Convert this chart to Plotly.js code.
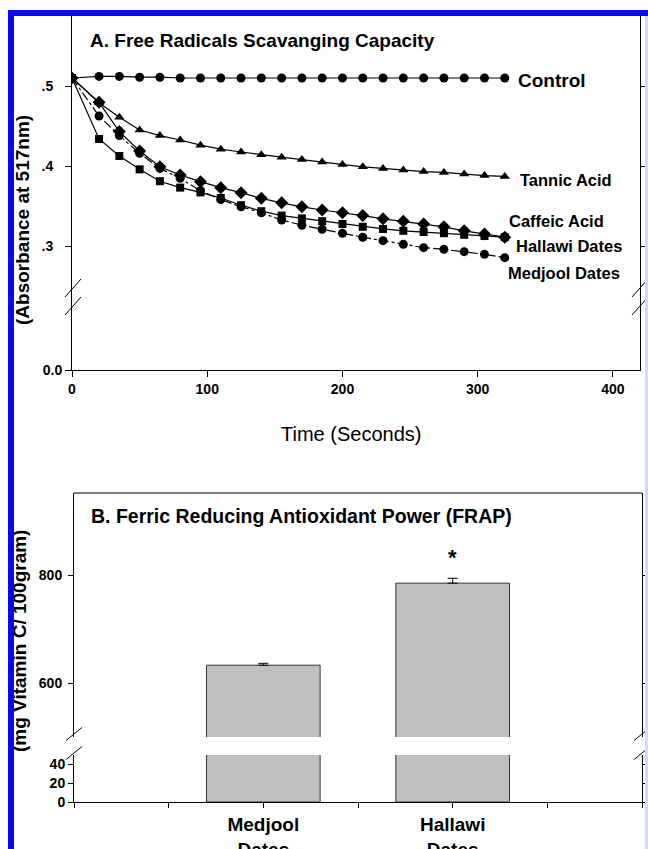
<!DOCTYPE html>
<html><head><meta charset="utf-8">
<script src="https://cdn.plot.ly/plotly-3.0.1.min.js"></script>
<style>
html,body{margin:0;padding:0;background:#fff;}
#wrap{position:relative;width:648px;height:849px;overflow:hidden;}
#chart{width:648px;height:849px;}
.b{position:absolute;background:#0808f2;}
</style>
</head><body>
<div id="wrap"><div id="chart"></div>
<div class="b" style="left:8px;top:10px;width:6px;height:839px"></div>
<div class="b" style="left:8px;top:10px;width:640px;height:6px"></div>
<div style="position:absolute;left:645px;top:16px;width:3px;height:833px;background:#d8d8f6"></div>
</div>
<script>
// ---- Panel A data: absorbance at 517 nm vs time ----
const timeSec = [0,20,35,50,65,80,95,110,125,140,155,170,185,200,215,230,245,260,275,290,305,320];
const control = [0.510,0.512,0.512,0.511,0.511,0.510,0.510,0.510,0.510,0.510,0.510,0.510,0.510,0.510,0.510,0.510,0.510,0.510,0.510,0.510,0.510,0.510];
const tannicAcid = [0.510,0.479,0.461,0.445,0.438,0.4325,0.426,0.421,0.4175,0.414,0.411,0.408,0.405,0.402,0.399,0.397,0.395,0.393,0.392,0.390,0.388,0.387];
const caffeicAcid = [0.510,0.4796,0.443,0.4188,0.399,0.3888,0.3804,0.3729,0.3667,0.3596,0.354,0.349,0.345,0.3417,0.338,0.334,0.3308,0.3275,0.324,0.319,0.315,0.311];
const hallawiDates = [0.510,0.4338,0.4125,0.3958,0.381,0.373,0.367,0.360,0.351,0.3435,0.338,0.3345,0.331,0.3275,0.324,0.3213,0.319,0.3175,0.316,0.314,0.3125,0.311];
const medjoolDates = [0.510,0.4625,0.438,0.4158,0.397,0.3846,0.369,0.358,0.349,0.3415,0.3325,0.326,0.321,0.3159,0.311,0.3067,0.3021,0.2979,0.2958,0.2929,0.2896,0.2854];
const seriesNames = ['Control','Tannic Acid','Caffeic Acid','Hallawi Dates','Medjool Dates'];
const timeTicks = [0,100,200,300,400];
const absTickVals = [0.3,0.4,0.5];
const absTickText = ['.3','.4','.5'];
const absZeroTick = [0];
const absZeroText = ['0.0'];

// ---- Panel B data: FRAP ----
const frapCategories = ['Medjool<br>Dates','Hallawi<br>Dates'];
const frapValues = [633, 785];
const frapErrors = [3.5, 9];
const frapErrMinus = [0, 0];
const frapUpperTicks = [600, 800];
const frapLowerTicks = [0, 20, 40];

const W = 648, H = 849;
const fx = p => p / W;
const fy = p => 1 - p / H;
const F = 'Liberation Sans, Arial, sans-serif';
const tickFont = {family: F, size: 14, color: '#000', weight: 'bold'};

function series(name, y, symbol, size, dash) {
  return {x: timeSec, y: y, name: name, mode: 'lines+markers', xaxis: 'x', yaxis: 'y',
    line: {color: '#000', width: 1.2, dash: dash},
    marker: {symbol: symbol, size: size, color: '#000'},
    showlegend: false, hoverinfo: 'skip'};
}

const traces = [
  series(seriesNames[4], medjoolDates, 'circle', 9, 'dashdot'),
  series(seriesNames[3], hallawiDates, 'square', 8, 'solid'),
  series(seriesNames[2], caffeicAcid, 'diamond', 10, 'solid'),
  series(seriesNames[1], tannicAcid, 'triangle-up', 9, 'solid'),
  series(seriesNames[0], control, 'circle', 9, 'solid'),
  {type: 'bar', x: frapCategories, y: frapValues, xaxis: 'x2', yaxis: 'y2', width: 0.6,
   marker: {color: '#c0c0c0', line: {color: '#333', width: 1}},
   error_y: {type: 'data', symmetric: false, array: frapErrors, arrayminus: frapErrMinus, color: '#000', thickness: 1, width: 5},
   showlegend: false, hoverinfo: 'skip'},
  {type: 'bar', x: frapCategories, y: frapValues, xaxis: 'x2', yaxis: 'y4', width: 0.6,
   marker: {color: '#c0c0c0', line: {color: '#333', width: 1}},
   showlegend: false, hoverinfo: 'skip'},
  // empty traces so the overlay axes (0.0 tick, extra x ticks) get drawn
  {type: 'scatter', mode: 'markers', x: [null], y: [null], xaxis: 'x', yaxis: 'y3', showlegend: false, hoverinfo: 'skip'},
  {type: 'scatter', mode: 'markers', x: [null], y: [null], xaxis: 'x3', yaxis: 'y4', showlegend: false, hoverinfo: 'skip'}
];

const axisBase = {showline: true, linecolor: '#000', linewidth: 1, showgrid: false, zeroline: false,
  ticks: 'outside', tickcolor: '#000', tickwidth: 1, tickfont: tickFont, fixedrange: true};

function slash(cx, cy, dx, dy) {
  return {type: 'line', xref: 'paper', yref: 'paper', x0: fx(cx - dx), y0: fy(cy + dy), x1: fx(cx + dx), y1: fy(cy - dy),
    line: {color: '#000', width: 1}};
}

function label(text, x, y) {
  return {text: text, x: x, y: y, xref: 'x', yref: 'y', xanchor: 'left', yanchor: 'middle', showarrow: false,
    font: {family: F, size: 16.5, color: '#000', weight: 'bold'}};
}

const layout = {
  width: W, height: H, margin: {l: 0, r: 0, t: 0, b: 0},
  paper_bgcolor: '#fff', plot_bgcolor: 'rgba(0,0,0,0)', showlegend: false,
  font: {family: F, color: '#000'},
  xaxis: Object.assign({}, axisBase, {domain: [fx(72), fx(640)], range: [0, 420], anchor: 'y',
    tickvals: timeTicks, ticklen: 6}),
  yaxis: Object.assign({}, axisBase, {domain: [fy(370), fy(16)], range: [0.145, 0.5875], anchor: 'x',
    tickvals: absTickVals, ticktext: absTickText, ticklen: 6, mirror: 'ticks', ticklabelstandoff: 9}),
  yaxis3: Object.assign({}, axisBase, {overlaying: 'y', anchor: 'x', range: [0, 1], showline: false,
    tickvals: absZeroTick, ticktext: absZeroText, ticklen: 6}),
  xaxis2: Object.assign({}, axisBase, {domain: [fx(74), fx(642)], anchor: 'y4', type: 'category', range: [-1, 2],
    ticklen: 5, tickfont: {family: F, size: 19, color: '#000', weight: 'bold'}}),
  xaxis3: Object.assign({}, axisBase, {overlaying: 'x2', anchor: 'y4', range: [-1, 2], tick0: -1, dtick: 0.5,
    ticklen: 5, showticklabels: false, showline: false}),
  yaxis2: Object.assign({}, axisBase, {domain: [fy(737), fy(493)], anchor: 'x2', range: [500, 952],
    tickvals: frapUpperTicks, ticklen: 5, mirror: 'ticks', ticklabelstandoff: 3}),
  yaxis4: Object.assign({}, axisBase, {domain: [fy(802), fy(755)], anchor: 'x2', range: [0, 49.5],
    tickvals: frapLowerTicks, ticklen: 5, mirror: 'ticks'}),
  shapes: [
    slash(73, 288, 8, 9), slash(73, 306, 8, 9),
    slash(640, 288, 8, 9), slash(640, 306, 8, 9),
    slash(74, 734, 8, 6.5), slash(74, 753, 8, 6.5),
    slash(642, 734, 8, 6.5), slash(642, 753, 8, 6.5),
    {type: 'line', xref: 'paper', yref: 'paper', x0: fx(74), x1: fx(642), y0: fy(493), y1: fy(493), line: {color: '#000', width: 1}}
  ],
  annotations: [
    {text: 'A. Free Radicals Scavanging Capacity', xref: 'paper', yref: 'paper', x: fx(88), y: fy(40),
     xanchor: 'left', yanchor: 'middle', showarrow: false, font: {family: F, size: 19, weight: 'bold', color: '#000'}},
    {text: 'B. Ferric Reducing Antioxidant Power (FRAP)', xref: 'paper', yref: 'paper', x: fx(89), y: fy(516),
     xanchor: 'left', yanchor: 'middle', showarrow: false, font: {family: F, size: 19.5, weight: 'bold', color: '#000'}},
    Object.assign(label(seriesNames[0], 328.3, 0.5075), {font: {family: F, size: 19, weight: 'bold', color: '#000'}}),
    label(seriesNames[1], 329.8, 0.3825),
    label(seriesNames[2], 321.6, 0.3313),
    label(seriesNames[3], 326.8, 0.300),
    label(seriesNames[4], 320.9, 0.2663),
    {text: 'Time (Seconds)', xref: 'paper', yref: 'paper', x: fx(351), y: fy(434), xanchor: 'center', yanchor: 'middle',
     showarrow: false, font: {family: F, size: 20, color: '#000'}},
    {text: '(Absorbance at 517nm)', xref: 'paper', yref: 'paper', x: fx(22), y: fy(220), textangle: -90,
     xanchor: 'center', yanchor: 'middle', showarrow: false, font: {family: F, size: 19, weight: 'bold', color: '#000'}},
    {text: '(mg Vitamin C/ 100gram)', xref: 'paper', yref: 'paper', x: fx(19), y: fy(641), textangle: -90,
     xanchor: 'center', yanchor: 'middle', showarrow: false, font: {family: F, size: 19, weight: 'bold', color: '#000'}},
    {text: '*', xref: 'x2', yref: 'y2', x: frapCategories[1], y: 833, xanchor: 'center', yanchor: 'middle',
     showarrow: false, font: {family: F, size: 22, weight: 'bold', color: '#000'}}
  ]
};

Plotly.newPlot('chart', traces, layout, {displayModeBar: false, staticPlot: true});
</script>
</body></html>
